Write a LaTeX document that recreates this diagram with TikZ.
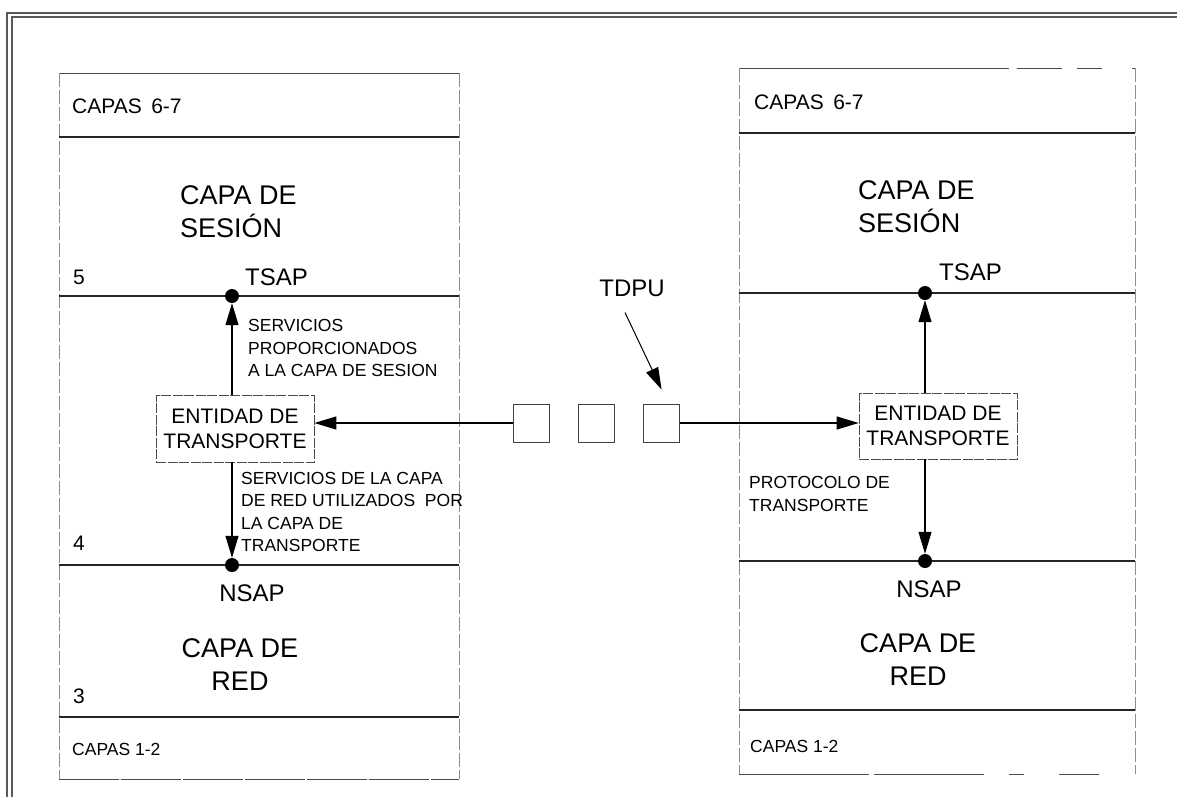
\documentclass[tikz,border=0pt]{standalone}
\usepackage{fontspec}
\setmainfont{Liberation Sans}
\usetikzlibrary{arrows.meta,positioning}

\newcommand{\capasz}{\fontsize{27}{33}\selectfont}
\newcommand{\sapsz}{\fontsize{24}{28}\selectfont}
\newcommand{\boxsz}{\fontsize{21}{25}\selectfont}
\newcommand{\notesz}{\fontsize{17.5}{22.5}\selectfont}

\begin{document}
\begin{tikzpicture}[
  x=1pt, y=-1pt,
  >={Triangle[length=22pt, width=13pt]},
  layer/.style={line width=1.8pt, black!85},
  edge/.style={line width=0.8pt, black!70},
  side/.style={line width=0.6pt, black!45, dash pattern=on 14pt off 3pt},
  entity/.style={draw=black!70, line width=0.7pt, dash pattern=on 10pt off 1.5pt,
    minimum width=158pt, minimum height=67pt, align=center, inner sep=0pt,
    font=\boxsz},
  pdu/.style={draw=black!75, line width=0.8pt, minimum width=36pt,
    minimum height=38pt, inner sep=0pt},
  sap/.style={circle, fill=black, inner sep=0pt, minimum size=14pt},
  lbl/.style={anchor=west, inner sep=0pt, align=left},
  arrow/.style={->, line width=1.1pt}
]
  \useasboundingbox (0,0) rectangle (1177,796);

  \draw[black!65, line width=1.6pt] (7,800) -- (7,13) -- (1180,13);
  \draw[black!65, line width=1.3pt] (12,800) -- (12,17) -- (1180,17);

  % left stack
  \draw[edge] (59,73) -- (459,73);
  \draw[side] (59,73) -- (59,779);
  \draw[side] (459,73) -- (459,779);
  \foreach \y in {137,296,565,717}
    \draw[layer] (59,\y) -- (459,\y);
  \draw[edge, dash pattern=on 60pt off 2pt] (59,779) -- (459,779);

  % right stack
  \draw[edge, dash pattern=on 270pt off 8pt on 45pt off 15pt on 25pt off 30pt]
    (739,68) -- (1135,68);
  \draw[side] (739,68) -- (739,774);
  \draw[side] (1135,68) -- (1135,774);
  \foreach \y in {133,293,561,710}
    \draw[layer] (739,\y) -- (1135,\y);
  \draw[edge, dash pattern=on 130pt off 5pt on 110pt off 25pt on 15pt off 35pt on 40pt]
    (739,774) -- (1135,774);

  \node[lbl, font=\boxsz] (capasL) at (72,106) {CAPAS\hspace{0.45em}6-7};
  \node[lbl, font=\capasz] (sesionL) at (180,211.5) {CAPA DE\\SESIÓN};
  \node[lbl, font=\boxsz] (n5) at (73,277) {5};
  \node[sap] (tsapL) at (232,296) {};
  \node[lbl, font=\sapsz] (tsapLlbl) at (245,277) {TSAP};
  \node[lbl, font=\notesz] (servSes) at (248,348)
    {SERVICIOS\\PROPORCIONADOS\\A LA CAPA DE SESION};
  \node[entity] (entL) at (235,428.5) {ENTIDAD DE\\TRANSPORTE};
  \node[lbl, font=\notesz] (servRed) at (241,512)
    {SERVICIOS DE LA CAPA\\DE RED UTILIZADOS\ \ POR\\LA CAPA DE\\TRANSPORTE};
  \node[lbl, font=\boxsz] (n4) at (73,543) {4};
  \node[sap] (nsapL) at (232,565) {};
  \node[font=\sapsz, inner sep=0pt] (nsapLlbl) at (252,593) {NSAP};
  \node[font=\capasz, align=center, inner sep=0pt] (redL) at (240,664.5) {CAPA DE\\RED};
  \node[lbl, font=\boxsz] (n3) at (73,696) {3};
  \node[lbl, font=\notesz] (capas12L) at (72,749) {CAPAS 1-2};

  \node[pdu] (pdu1) at (531,423) {};
  \node[pdu, right=29pt of pdu1] (pdu2) {};
  \node[pdu, right=28pt of pdu2] (pdu3) {};
  \node[font=\sapsz, inner sep=0pt] (tdpuLbl) at (632,288) {TDPU};

  \node[lbl, font=\boxsz] (capasR) at (754,102) {CAPAS\hspace{0.45em}6-7};
  \node[lbl, font=\capasz] (sesionR) at (858,206.5) {CAPA DE\\SESIÓN};
  \node[sap] (tsapR) at (925,293) {};
  \node[lbl, font=\sapsz] (tsapRlbl) at (939,272) {TSAP};
  \node[entity, minimum height=66pt] (entR) at (938,426) {ENTIDAD DE\\TRANSPORTE};
  \node[lbl, font=\notesz] (protoR) at (749,494) {PROTOCOLO DE\\TRANSPORTE};
  \node[sap] (nsapR) at (925,561) {};
  \node[font=\sapsz, inner sep=0pt] (nsapRlbl) at (929,589) {NSAP};
  \node[font=\capasz, align=center, inner sep=0pt] (redR) at (918,660) {CAPA DE\\RED};
  \node[lbl, font=\notesz] (capas12R) at (750,746) {CAPAS 1-2};

  \draw[arrow] (entL.north -| tsapL) -- (tsapL.south);
  \draw[arrow] (entL.south -| nsapL) -- (nsapL.north);
  \draw[arrow] (pdu1.west) -- (pdu1.west -| entL.east);
  \draw[arrow] (pdu3.east) -- (pdu3.east -| entR.west);
  \draw[arrow] (entR.north -| tsapR) -- (tsapR.south);
  \draw[arrow] (entR.south -| nsapR) -- (nsapR.north);
  \draw[arrow, line width=1pt] ([xshift=-7pt, yshift=-16pt]tdpuLbl.south)
    -- ([yshift=14pt]pdu3.north);
\end{tikzpicture}
\end{document}
